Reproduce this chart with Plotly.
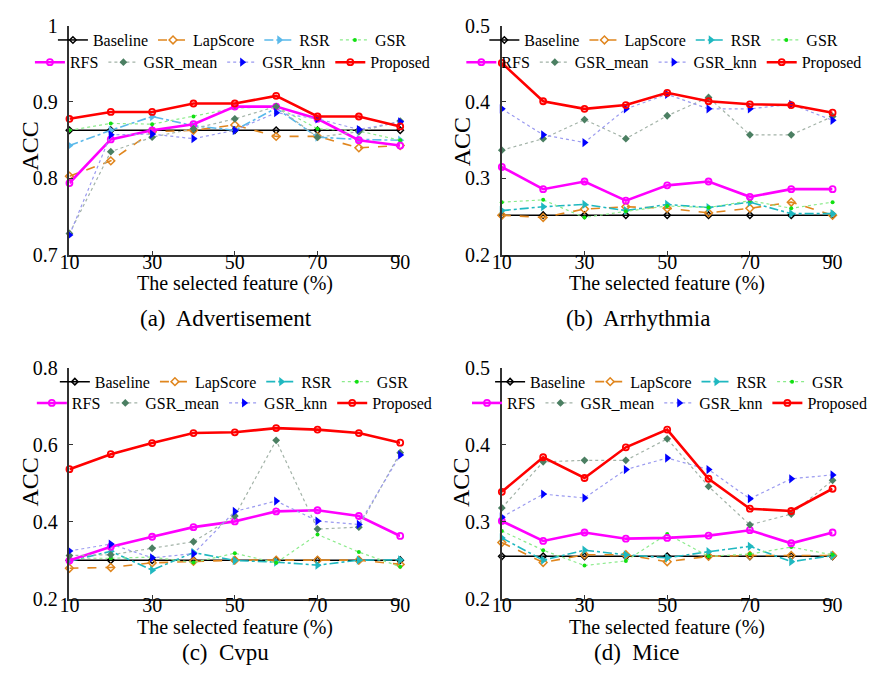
import plotly.graph_objects as go

# ---------------- data ----------------
x_pct = [10, 20, 30, 40, 50, 60, 70, 80, 90]
x_tick_vals = [10, 30, 50, 70, 90]
methods = ["Baseline", "LapScore", "RSR", "GSR", "RFS", "GSR_mean", "GSR_knn", "Proposed"]
panel_captions = ["(a)  Advertisement", "(b)  Arrhythmia", "(c)  Cvpu", "(d)  Mice"]

# (a) Advertisement
adv_baseline = [0.863, 0.863, 0.863, 0.863, 0.863, 0.863, 0.863, 0.863, 0.863]
adv_lapscore = [0.803, 0.823, 0.861, 0.863, 0.870, 0.855, 0.855, 0.840, 0.843]
adv_rsr = [0.843, 0.863, 0.881, 0.869, 0.863, 0.892, 0.854, 0.851, 0.850]
adv_gsr = [0.863, 0.872, 0.871, 0.881, 0.892, 0.894, 0.865, 0.862, 0.850]
adv_rfs = [0.794, 0.851, 0.863, 0.871, 0.894, 0.894, 0.878, 0.850, 0.843]
adv_gsr_mean = [0.728, 0.835, 0.854, 0.865, 0.878, 0.894, 0.854, 0.861, 0.875]
adv_gsr_knn = [0.726, 0.857, 0.858, 0.852, 0.863, 0.886, 0.878, 0.864, 0.874]
adv_proposed = [0.878, 0.887, 0.887, 0.898, 0.898, 0.908, 0.881, 0.881, 0.868]

# (b) Arrhythmia
arr_baseline = [0.252, 0.252, 0.252, 0.252, 0.252, 0.252, 0.252, 0.252, 0.252]
arr_lapscore = [0.252, 0.249, 0.260, 0.263, 0.261, 0.255, 0.261, 0.269, 0.252]
arr_rsr = [0.258, 0.263, 0.266, 0.258, 0.266, 0.262, 0.269, 0.254, 0.254]
arr_gsr = [0.269, 0.272, 0.249, 0.257, 0.264, 0.262, 0.271, 0.261, 0.269]
arr_rfs = [0.315, 0.286, 0.296, 0.271, 0.291, 0.296, 0.276, 0.286, 0.286]
arr_gsr_mean = [0.337, 0.352, 0.377, 0.352, 0.382, 0.406, 0.357, 0.357, 0.381]
arr_gsr_knn = [0.391, 0.357, 0.347, 0.391, 0.410, 0.391, 0.391, 0.397, 0.376]
arr_proposed = [0.451, 0.401, 0.391, 0.396, 0.412, 0.401, 0.397, 0.396, 0.386]

# (c) Cvpu
cvp_baseline = [0.300, 0.300, 0.300, 0.300, 0.300, 0.300, 0.300, 0.300, 0.300]
cvp_lapscore = [0.279, 0.281, 0.293, 0.297, 0.300, 0.300, 0.300, 0.300, 0.289]
cvp_rsr = [0.297, 0.323, 0.274, 0.320, 0.299, 0.295, 0.287, 0.300, 0.301]
cvp_gsr = [0.305, 0.305, 0.308, 0.294, 0.318, 0.293, 0.367, 0.321, 0.283]
cvp_rfs = [0.299, 0.335, 0.361, 0.386, 0.401, 0.427, 0.430, 0.415, 0.363]
cvp_gsr_mean = [0.312, 0.314, 0.331, 0.348, 0.415, 0.612, 0.381, 0.386, 0.580]
cvp_gsr_knn = [0.324, 0.342, 0.306, 0.317, 0.427, 0.454, 0.402, 0.393, 0.574]
cvp_proposed = [0.537, 0.576, 0.605, 0.631, 0.633, 0.644, 0.640, 0.631, 0.606]

# (d) Mice
mic_baseline = [0.255, 0.255, 0.255, 0.255, 0.255, 0.255, 0.255, 0.255, 0.255]
mic_lapscore = [0.273, 0.247, 0.257, 0.257, 0.248, 0.255, 0.256, 0.256, 0.256]
mic_rsr = [0.279, 0.250, 0.263, 0.257, 0.253, 0.261, 0.268, 0.248, 0.256]
mic_gsr = [0.288, 0.263, 0.243, 0.249, 0.284, 0.255, 0.258, 0.267, 0.257]
mic_rfs = [0.301, 0.275, 0.286, 0.278, 0.279, 0.282, 0.289, 0.272, 0.286]
mic_gsr_mean = [0.318, 0.378, 0.380, 0.380, 0.408, 0.346, 0.296, 0.310, 0.354]
mic_gsr_knn = [0.306, 0.336, 0.331, 0.368, 0.383, 0.368, 0.330, 0.356, 0.361]
mic_proposed = [0.339, 0.384, 0.357, 0.397, 0.420, 0.356, 0.317, 0.314, 0.343]

panels = [
    [adv_baseline, adv_lapscore, adv_rsr, adv_gsr, adv_rfs, adv_gsr_mean, adv_gsr_knn, adv_proposed],
    [arr_baseline, arr_lapscore, arr_rsr, arr_gsr, arr_rfs, arr_gsr_mean, arr_gsr_knn, arr_proposed],
    [cvp_baseline, cvp_lapscore, cvp_rsr, cvp_gsr, cvp_rfs, cvp_gsr_mean, cvp_gsr_knn, cvp_proposed],
    [mic_baseline, mic_lapscore, mic_rsr, mic_gsr, mic_rfs, mic_gsr_mean, mic_gsr_knn, mic_proposed],
]
y_ranges = [[0.7, 1.0], [0.2, 0.5], [0.2, 0.8], [0.2, 0.5]]
y_tick_vals = [[0.7, 0.8, 0.9, 1.0], [0.2, 0.3, 0.4, 0.5], [0.2, 0.4, 0.6, 0.8], [0.2, 0.3, 0.4, 0.5]]
y_tick_text = [["0.7", "0.8", "0.9", "1"], ["0.2", "0.3", "0.4", "0.5"],
               ["0.2", "0.4", "0.6", "0.8"], ["0.2", "0.3", "0.4", "0.5"]]

# ---------------- styles ----------------
W, H = 872, 687
FONT = "Liberation Serif, Times New Roman, serif"

styles = {
    "Baseline": dict(lc="#000000", mc="#000000", dash="solid", lw=1.5, sym="diamond-open", ms=5, mlw=1.5),
    "LapScore": dict(lc="#E0861E", mc="#E0861E", dash="dash", lw=1.6, sym="diamond-open", ms=6, mlw=1.5),
    "RSR": dict(lc="#1FB8C0", mc="#1FB8C0", dash="dashdot", lw=1.6, sym="triangle-right", ms=8, mlw=0),
    "GSR": dict(lc="#8CEB8C", mc="#11E011", dash="dot", lw=1.2, sym="circle", ms=4, mlw=0),
    "RFS": dict(lc="#FF00FF", mc="#FF00FF", dash="solid", lw=2.6, sym="circle-open", ms=6, mlw=1.8),
    "GSR_mean": dict(lc="#A3B3A8", mc="#4B7F62", dash="dot", lw=1.2, sym="diamond", ms=6, mlw=0),
    "GSR_knn": dict(lc="#9A9AF0", mc="#0000FF", dash="dot", lw=1.2, sym="triangle-right", ms=8, mlw=0),
    "Proposed": dict(lc="#FF0000", mc="#FF0000", dash="solid", lw=2.6, sym="circle-open", ms=6, mlw=1.8),
}
rsr_color_a = "#5AB9EA"

# plot areas in pixels: (left, right, top, bottom)
boxes = [(62, 407, 15, 252), (513, 858, 15, 252), (62, 407, 369, 607), (513, 858, 369, 607)]
legend_cx = [232, 682, 234, 688]
legend_rows_y = [(30, 53), (30, 53), (383, 405), (383, 405)]
caption_pos = [(225, 318), (655, 318), (225, 663), (654, 663)]
ylabel_pos = [(20, 140), (471, 135), (21, 487), (471, 487)]
xtitle_offset = 30

fig = go.Figure()
annotations = []
layout = dict(
    width=W, height=H, margin=dict(l=0, r=0, t=0, b=0),
    paper_bgcolor="white", plot_bgcolor="white",
    font=dict(family=FONT, color="black", size=16),
)

for p in range(4):
    ax = "" if p == 0 else str(p + 1)
    xa, ya = "x" + ax, "y" + ax
    l, r, t, b = boxes[p]
    leg1 = "legend" if p == 0 else "legend%d" % (2 * p + 1)
    leg2 = "legend%d" % (2 * p + 2)
    for i, name in enumerate(methods):
        s = styles[name]
        lc, mc = s["lc"], s["mc"]
        if name == "RSR" and p == 0:
            lc = mc = rsr_color_a
        fig.add_trace(go.Scatter(
            x=x_pct, y=panels[p][i], name=name, mode="lines+markers",
            xaxis=xa, yaxis=ya, legend=leg1 if i < 4 else leg2,
            cliponaxis=False,
            line=dict(color=lc, width=s["lw"], dash=s["dash"]),
            marker=dict(symbol=s["sym"], size=s["ms"], color=mc,
                        line=dict(color=mc, width=s["mlw"])),
        ))
    axis_common = dict(
        showline=True, linecolor="#333333", linewidth=1.5, mirror=False,
        showgrid=False, zeroline=False, ticks="inside", ticklen=4,
        tickcolor="#333333", tickfont=dict(family=FONT, size=20, color="black"),
    )
    layout["xaxis" + ax] = dict(
        domain=[l / W, r / W], anchor=ya, range=[10, 90], ticklabelstandoff=-12,
        tickvals=x_tick_vals, ticktext=[str(v) for v in x_tick_vals], **axis_common)
    layout["yaxis" + ax] = dict(
        domain=[1 - b / H, 1 - t / H], anchor=xa, range=y_ranges[p], ticklabelstandoff=6,
        tickvals=y_tick_vals[p], ticktext=y_tick_text[p], **axis_common)
    for leg, ry in ((leg1, legend_rows_y[p][0]), (leg2, legend_rows_y[p][1])):
        layout[leg] = dict(
            orientation="h", x=legend_cx[p] / W, xanchor="center",
            y=1 - ry / H, yanchor="middle", bgcolor="rgba(0,0,0,0)",
            borderwidth=0, itemwidth=30, tracegroupgap=0,
            font=dict(family=FONT, size=16, color="black"),
        )
    # axis titles and captions
    annotations.append(dict(
        text="The selected feature (%)", x=(l + r) / 2 / W, y=1 - (b + xtitle_offset) / H,
        xref="paper", yref="paper", showarrow=False, xanchor="center", yanchor="middle",
        font=dict(family=FONT, size=20, color="black")))
    annotations.append(dict(
        text="ACC", x=ylabel_pos[p][0] / W, y=1 - ylabel_pos[p][1] / H, textangle=-90,
        xref="paper", yref="paper", showarrow=False, xanchor="center", yanchor="middle",
        font=dict(family=FONT, size=24, color="black")))
    annotations.append(dict(
        text=panel_captions[p], x=caption_pos[p][0] / W, y=1 - caption_pos[p][1] / H,
        xref="paper", yref="paper", showarrow=False, xanchor="center", yanchor="middle",
        font=dict(family=FONT, size=23, color="black")))

layout["annotations"] = annotations
fig.update_layout(**layout)
fig.write_html("out.html")
